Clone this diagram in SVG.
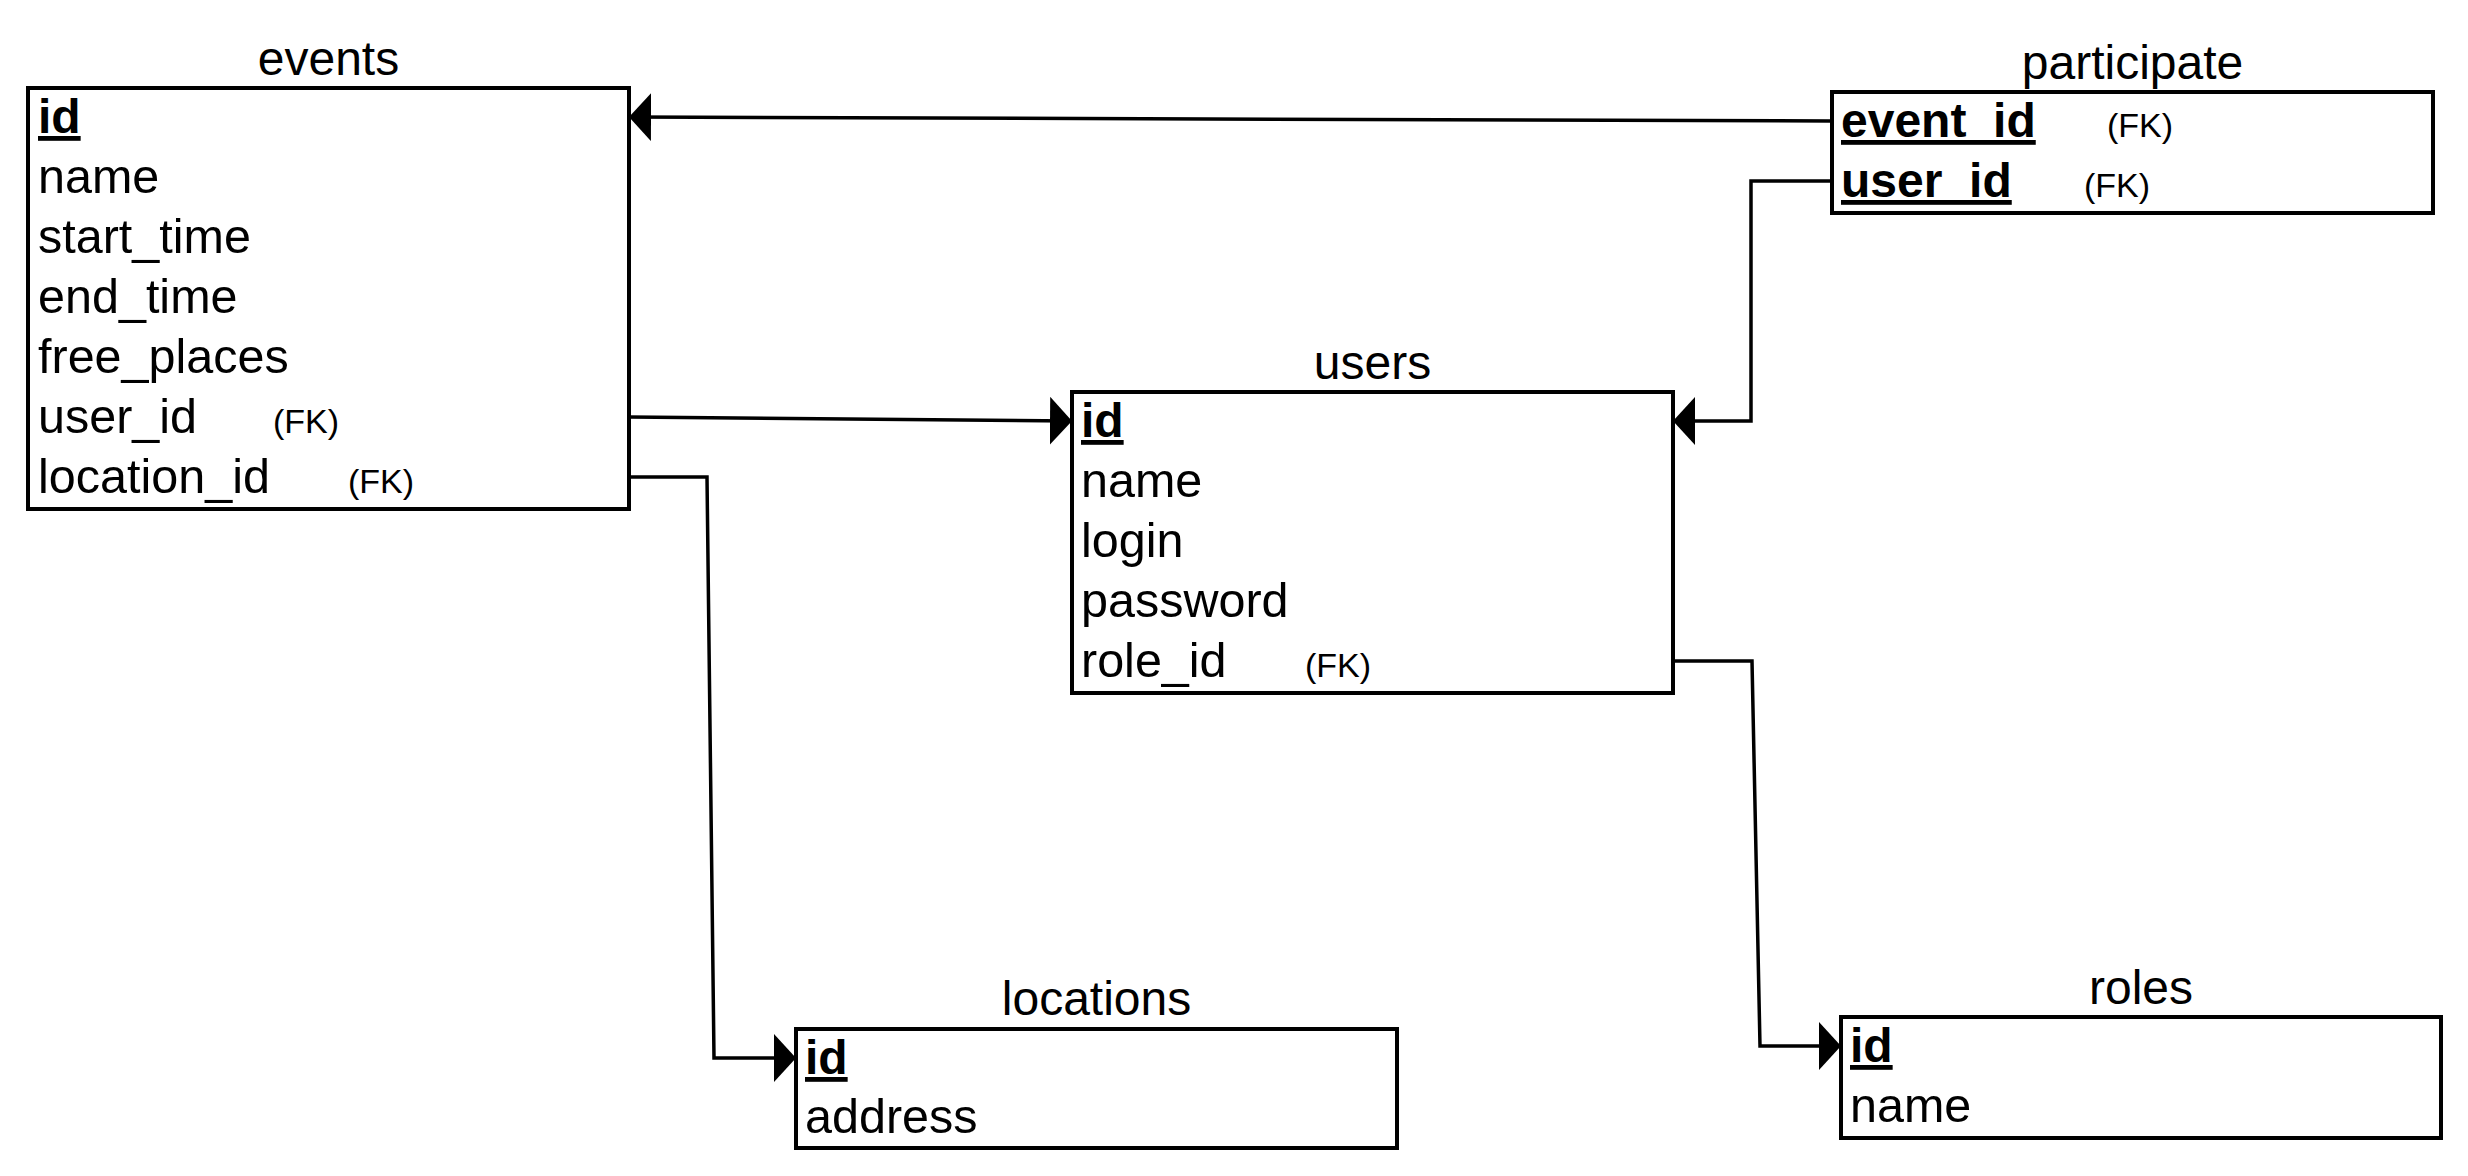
<svg xmlns="http://www.w3.org/2000/svg" width="2468" height="1176" viewBox="0 0 2468 1176">
<style>
text{font-family:"Liberation Sans",Arial,sans-serif;fill:#000}
.title{font-size:48px;text-anchor:middle}
.row{font-size:48.5px}
.pk{font-size:48px;font-weight:bold;text-decoration:underline}
.fk{font-size:34px}
.box{fill:#fff;stroke:#000;stroke-width:4}
.conn{fill:none;stroke:#000;stroke-width:3.5}
</style>
<defs>
<marker id="arrow" markerUnits="userSpaceOnUse" viewBox="0 0 22 48" markerWidth="22" markerHeight="48" refX="22" refY="24" orient="auto">
<path d="M0,0 L22,24 L0,48 Z" fill="#000"/>
</marker>
</defs>
<rect width="2468" height="1176" fill="#fff"/>

<g id="connectors">
<path class="conn" d="M1832,121 L629,117" marker-end="url(#arrow)"/>
<path class="conn" d="M629,417 L1072,421" marker-end="url(#arrow)"/>
<path class="conn" d="M1832,181 L1751,181 L1751,421 L1673,421" marker-end="url(#arrow)"/>
<path class="conn" d="M629,477 L707,477 L714,1058 L796,1058" marker-end="url(#arrow)"/>
<path class="conn" d="M1673,661 L1752,661 L1760,1046 L1841,1046" marker-end="url(#arrow)"/>
</g>

<g id="events">
<text class="title" x="328.5" y="75">events</text>
<rect class="box" x="28" y="88" width="601" height="421"/>
<text class="pk" x="38" y="133">id</text>
<text class="row" x="38" y="193">name</text>
<text class="row" x="38" y="253">start_time</text>
<text class="row" x="38" y="313">end_time</text>
<text class="row" x="38" y="373">free_places</text>
<text class="row" x="38" y="433">user_id</text>
<text class="fk" x="273" y="433">(FK)</text>
<text class="row" x="38" y="493">location_id</text>
<text class="fk" x="348" y="493">(FK)</text>
</g>

<g id="users">
<text class="title" x="1372.5" y="379">users</text>
<rect class="box" x="1072" y="392" width="601" height="301"/>
<text class="pk" x="1081" y="437">id</text>
<text class="row" x="1081" y="497">name</text>
<text class="row" x="1081" y="557">login</text>
<text class="row" x="1081" y="617">password</text>
<text class="row" x="1081" y="677">role_id</text>
<text class="fk" x="1305" y="677">(FK)</text>
</g>

<g id="participate">
<text class="title" x="2132.5" y="79">participate</text>
<rect class="box" x="1832" y="92" width="601" height="121"/>
<text class="pk" x="1841" y="137">event_id</text>
<text class="fk" x="2107" y="137">(FK)</text>
<text class="pk" x="1841" y="197">user_id</text>
<text class="fk" x="2084" y="197">(FK)</text>
</g>

<g id="locations">
<text class="title" x="1096.5" y="1015">locations</text>
<rect class="box" x="796" y="1029" width="601" height="119"/>
<text class="pk" x="805" y="1074">id</text>
<text class="row" x="805" y="1133">address</text>
</g>

<g id="roles">
<text class="title" x="2141" y="1004">roles</text>
<rect class="box" x="1841" y="1017" width="600" height="121"/>
<text class="pk" x="1850" y="1062">id</text>
<text class="row" x="1850" y="1122">name</text>
</g>
</svg>
